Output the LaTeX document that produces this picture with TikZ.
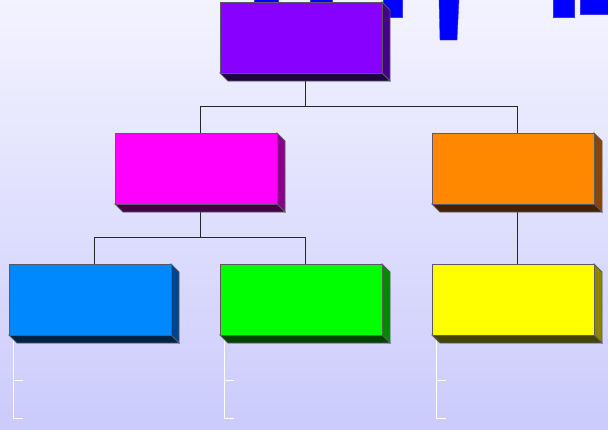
\documentclass[tikz,border=0pt]{standalone}
\definecolor{edgegray}{RGB}{90,90,100}
\definecolor{bgtop}{RGB}{243,243,255}
\definecolor{bgbot}{RGB}{203,203,252}
\definecolor{topF}{RGB}{136,0,255}\definecolor{topR}{RGB}{68,0,136}\definecolor{topB}{RGB}{34,0,68}
\definecolor{magF}{RGB}{255,0,255}\definecolor{magR}{RGB}{136,0,136}\definecolor{magB}{RGB}{68,0,68}
\definecolor{oraF}{RGB}{255,136,0}\definecolor{oraR}{RGB}{136,68,0}\definecolor{oraB}{RGB}{68,34,0}
\definecolor{bluF}{RGB}{0,136,255}\definecolor{bluR}{RGB}{0,68,136}\definecolor{bluB}{RGB}{0,34,68}
\definecolor{greF}{RGB}{0,255,0}\definecolor{greR}{RGB}{0,136,0}\definecolor{greB}{RGB}{0,68,0}
\definecolor{yelF}{RGB}{255,255,0}\definecolor{yelR}{RGB}{136,136,0}\definecolor{yelB}{RGB}{68,68,0}
\newcommand\boxthreed[1]{%
  \filldraw[fill=#1R, draw=edgegray, line width=0.8pt]
    (#1.north east) -- ++(8,8) -- ([shift={(8pt,-8pt)}]#1.south east) -- (#1.south east) -- cycle;
  \filldraw[fill=#1B, draw=edgegray, line width=0.8pt]
    (#1.south west) -- (#1.south east) -- ([shift={(8pt,-8pt)}]#1.south east) -- ([shift={(8pt,-8pt)}]#1.south west) -- cycle;
  \node[box, fill=#1F] at (#1) {};
}
\begin{document}
\begin{tikzpicture}[x=1pt,y=-1pt,
  box/.style={draw=edgegray, line width=0.8pt, minimum width=162pt, minimum height=71pt, inner sep=0pt, outer sep=0pt},
  conn/.style={draw=black!85, line width=0.8pt},
  bracket/.style={draw=white, line width=0.9pt},
  blueshape/.style={fill=blue, draw=blue!80!white, line width=0.4pt}]
\useasboundingbox (0,0) rectangle (608,429);
\shade[top color=bgtop, bottom color=bgbot] (0,0) rectangle (608,429);
% blue shapes at top (behind boxes)
\path[blueshape] (254,-1) rectangle (278,2);
\path[blueshape] (310,-1) rectangle (332,2);
\path[blueshape] (383,-1) rectangle (402,17);
\path[blueshape] (439,-1) -- (459,-1) -- (457,40) -- (440,40) -- cycle;
\path[blueshape] (553,-1) rectangle (574,17);
\path[blueshape] (580,-1) rectangle (609,14);
% node anchors (front faces)
\path
  node[box, draw=none] (top) at (301,37.5) {}
  node[box, draw=none] (mag) at (196,168.5) {}
  node[box, draw=none] (ora) at (513,168.5) {}
  node[box, draw=none] (blu) at (90,299.5) {}
  node[box, draw=none] (gre) at (301,299.5) {}
  node[box, draw=none] (yel) at (513,299.5) {};
% connectors
\draw[conn] ([xshift=4pt]top.south) -- ++(0,33) -| ([xshift=4pt]mag.north);
\draw[conn] ([xshift=4pt]top.south) -- ++(0,33) -| ([xshift=4pt]ora.north);
\draw[conn] ([xshift=4pt]mag.south) -- ++(0,33) -| ([xshift=4pt]blu.north);
\draw[conn] ([xshift=4pt]mag.south) -- ++(0,33) -| ([xshift=4pt]gre.north);
\draw[conn] ([xshift=4pt]ora.south) -- ([xshift=4pt]yel.north);
% white brackets
\foreach \n in {blu,gre,yel}{
  \draw[bracket] ([xshift=4pt]\n.south west) -- ++(0,83) -- ++(10,0);
  \draw[bracket] ([xshift=4pt,yshift=-45pt]\n.south west) -- ++(10,0);
}
% extruded boxes
\boxthreed{top}
\boxthreed{mag}
\boxthreed{ora}
\boxthreed{blu}
\boxthreed{gre}
\boxthreed{yel}
\end{tikzpicture}
\end{document}
